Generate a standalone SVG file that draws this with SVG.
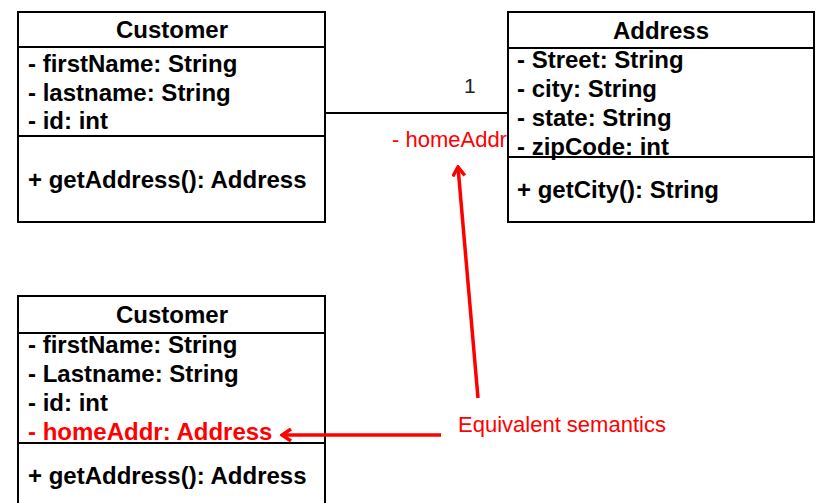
<svg xmlns="http://www.w3.org/2000/svg" width="819" height="503" viewBox="0 0 819 503">
<defs>
<style>
.box{fill:#fff;stroke:#000;stroke-width:2}
.ln{stroke:#000;stroke-width:2;fill:none}
.t{font-family:"Liberation Sans",Arial,sans-serif;font-size:24px;font-weight:bold;fill:#000}
.c{text-anchor:middle}
.r{font-family:"Liberation Sans",Arial,sans-serif;font-size:22px;fill:#f00}
.red{stroke:#f00;stroke-width:3.5;fill:none}
</style>
<marker id="ah" viewBox="0 0 14 14" refX="12" refY="7" markerWidth="14" markerHeight="14" markerUnits="userSpaceOnUse" orient="auto">
<path d="M3,1 L12,7 L3,13" fill="none" stroke="#f00" stroke-width="3.5"/>
</marker>
</defs>
<g id="connectors">
<line class="ln" x1="325" y1="113" x2="508" y2="113"/>
<text x="464" y="93" style="font-family:'Liberation Sans',Arial,sans-serif;font-size:21px;fill:#222">1</text>
<text class="r" x="392" y="147">- homeAddr</text>
</g>
<g id="customer1">
<rect class="box" x="18" y="12" width="307" height="210"/>
<line class="ln" x1="18" y1="47" x2="325" y2="47"/>
<line class="ln" x1="18" y1="136" x2="325" y2="136"/>
<text class="t c" x="172" y="38">Customer</text>
<text class="t" x="28" y="72">- firstName: String</text>
<text class="t" x="28" y="101">- lastname: String</text>
<text class="t" x="28" y="129">- id: int</text>
<text class="t" x="28" y="188">+ getAddress(): Address</text>
</g>
<g id="address">
<rect class="box" x="508" y="12" width="306" height="210"/>
<line class="ln" x1="508" y1="48" x2="814" y2="48"/>
<text class="t c" x="661" y="39">Address</text>
<text class="t" x="517" y="68">- Street: String</text>
<text class="t" x="517" y="97">- city: String</text>
<text class="t" x="517" y="126">- state: String</text>
<text class="t" x="517" y="155">- zipCode: int</text>
<line class="ln" x1="508" y1="157" x2="814" y2="157"/>
<text class="t" x="517" y="198">+ getCity(): String</text>
</g>
<g id="customer2">
<rect class="box" x="18" y="296" width="307" height="220"/>
<line class="ln" x1="18" y1="333" x2="325" y2="333"/>
<line class="ln" x1="18" y1="443" x2="325" y2="443"/>
<text class="t c" x="172" y="323">Customer</text>
<text class="t" x="28" y="353">- firstName: String</text>
<text class="t" x="28" y="382">- Lastname: String</text>
<text class="t" x="28" y="411">- id: int</text>
<text class="t" x="28" y="440" style="fill:#f00">- homeAddr: Address</text>
<text class="t" x="28" y="484">+ getAddress(): Address</text>
</g>
<g id="annotation">
<line class="red" x1="478" y1="398" x2="458" y2="167" marker-end="url(#ah)"/>
<line class="red" x1="441" y1="435" x2="282" y2="435" marker-end="url(#ah)"/>
<text class="r" x="458" y="432">Equivalent semantics</text>
</g>
</svg>
